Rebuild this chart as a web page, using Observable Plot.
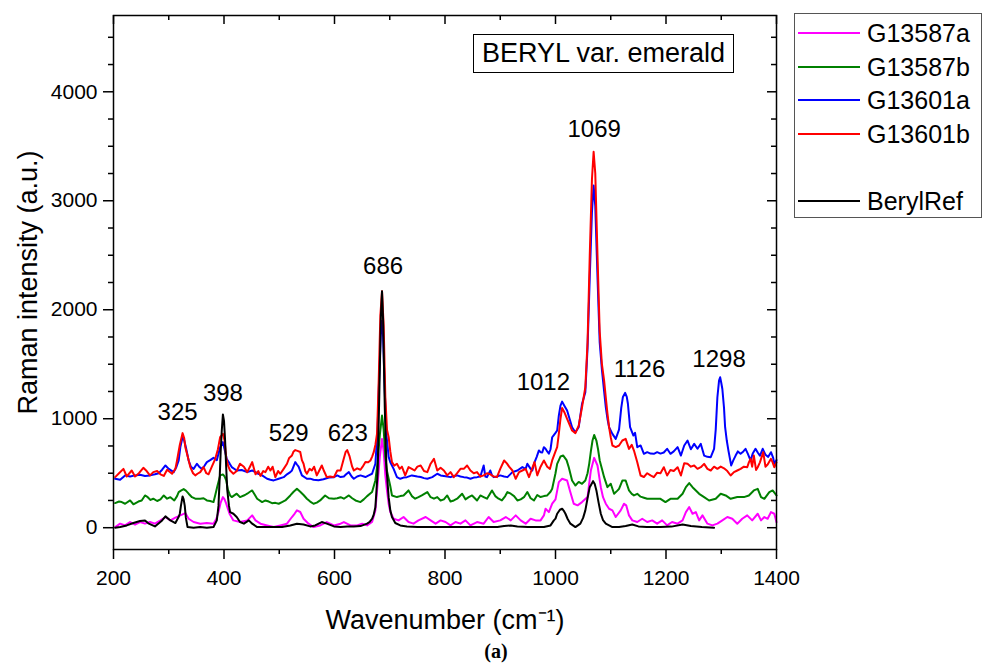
<!DOCTYPE html>
<html>
<head>
<meta charset="utf-8">
<script src="https://cdn.jsdelivr.net/npm/d3@7"></script>
<script src="https://cdn.jsdelivr.net/npm/@observablehq/plot@0.6"></script>
<style>
  body { margin: 0; background: #fff; }
  #wrap { position: relative; width: 989px; height: 666px; font-family: "Liberation Sans", Arial, sans-serif; color: #000; }
  #chart { position: absolute; left: 0; top: 0; }
  .sample-box { position: absolute; left: 473px; top: 34px; width: 261px; height: 39px; box-sizing: border-box;
    border: 1.5px solid #000; font-size: 27px; line-height: 36px; text-align: center; white-space: nowrap; background: #fff; }
  .legend { position: absolute; left: 794px; top: 13px; width: 188px; height: 205px; box-sizing: border-box; border: 1px solid #555; }
  .legend .row { position: absolute; left: 0; height: 0; }
  .legend .swatch { position: absolute; left: 3px; width: 62px; top: -1px; height: 2px; }
  .legend .name { position: absolute; left: 72px; top: -15px; font-size: 25px; line-height: 30px; white-space: nowrap; }
  .panel { position: absolute; top: 641px; left: 496px; transform: translateX(-50%);
    font-family: "Liberation Serif", "Times New Roman", serif; font-weight: bold; font-size: 20px; line-height: 20px; }
</style>
</head>
<body>
<div id="wrap">
  <div id="chart"></div>
  <div class="sample-box">BERYL var. emerald</div>
  <div class="legend" id="legend"></div>
  <div class="panel">(a)</div>
</div>
<script>
// Raman spectra of emerald samples and the beryl reference: [wavenumber cm⁻¹, intensity a.u.]
const G13587a = [[203,6],[212,37],[221,21],[230,52],[239,28],[248,52],[257,37],[266,52],[275,37],[285,67],[294,98],[303,67],[312,92],[321,113],[330,134],[336,82],[345,52],[357,37],[369,43],[381,37],[386,80],[390,144],[394,230],[398,281],[401,260],[404,220],[410,128],[417,67],[429,52],[442,67],[451,113],[457,67],[466,37],[478,21],[490,6],[502,21],[514,37],[523,98],[528,130],[532,159],[538,144],[544,82],[553,37],[562,6],[574,21],[586,52],[599,21],[611,37],[617,52],[629,21],[641,21],[650,37],[659,21],[668,52],[674,159],[678,400],[682,650],[686,815],[689,700],[692,480],[695,342],[698,220],[701,144],[707,82],[716,67],[725,98],[734,52],[743,37],[752,67],[765,98],[774,67],[783,37],[792,67],[801,52],[810,21],[819,52],[828,37],[837,67],[846,21],[858,52],[870,37],[879,98],[888,52],[900,67],[910,98],[919,67],[928,113],[937,67],[946,37],[955,82],[964,67],[973,67],[979,113],[982,174],[988,143],[994,220],[1000,260],[1006,418],[1012,449],[1021,433],[1026,342],[1033,220],[1040,205],[1048,235],[1058,281],[1064,525],[1070,641],[1076,571],[1082,372],[1086,280],[1091,220],[1097,174],[1103,159],[1109,98],[1118,159],[1124,220],[1128,205],[1133,113],[1139,67],[1148,52],[1157,82],[1166,52],[1175,67],[1184,37],[1193,67],[1202,21],[1211,52],[1221,37],[1230,67],[1236,143],[1242,189],[1248,128],[1254,143],[1260,67],[1266,113],[1275,37],[1284,21],[1293,37],[1302,67],[1311,98],[1320,82],[1329,37],[1338,82],[1347,113],[1356,67],[1366,128],[1372,67],[1378,98],[1384,82],[1390,143],[1396,128],[1400,50]];

const G13587b = [[203,226],[210,240],[215,235],[221,220],[230,250],[236,215],[245,240],[251,250],[257,296],[262,280],[267,255],[272,266],[279,245],[285,260],[291,296],[297,266],[303,280],[310,250],[315,290],[318,327],[322,340],[327,354],[331,340],[336,312],[342,280],[348,266],[357,266],[363,270],[369,250],[375,245],[381,235],[384,296],[388,380],[393,480],[398,489],[401,470],[404,434],[407,350],[411,296],[414,281],[423,312],[429,281],[438,300],[442,312],[447,330],[451,342],[456,300],[460,266],[469,235],[475,250],[481,240],[487,225],[493,228],[499,220],[505,235],[511,250],[520,296],[526,330],[532,357],[538,330],[544,300],[550,266],[556,240],[562,220],[568,230],[574,250],[583,296],[590,270],[599,266],[605,270],[611,280],[617,266],[626,296],[632,270],[638,250],[647,235],[653,260],[659,290],[668,327],[674,434],[678,600],[682,850],[686,1029],[689,900],[692,650],[695,520],[698,450],[701,380],[704,296],[713,281],[719,290],[725,296],[734,342],[740,290],[746,266],[752,280],[758,296],[768,327],[774,280],[780,266],[786,281],[792,250],[798,260],[804,296],[810,240],[816,250],[822,266],[831,312],[837,260],[843,280],[849,296],[858,250],[864,296],[870,281],[876,266],[885,342],[891,290],[897,266],[903,250],[909,290],[913,327],[919,312],[925,290],[931,250],[937,260],[943,280],[949,327],[955,270],[961,250],[967,300],[973,281],[979,290],[985,296],[991,330],[994,357],[1000,500],[1003,586],[1009,653],[1014,662],[1020,620],[1024,555],[1030,433],[1036,387],[1042,420],[1048,403],[1054,433],[1058,500],[1061,586],[1064,700],[1067,800],[1070,851],[1074,800],[1077,720],[1080,617],[1084,540],[1088,464],[1094,372],[1100,403],[1106,311],[1112,340],[1115,357],[1121,433],[1127,433],[1133,342],[1138,310],[1142,296],[1148,311],[1154,285],[1160,275],[1166,265],[1178,265],[1190,265],[1199,235],[1208,265],[1221,265],[1230,311],[1236,372],[1242,409],[1248,372],[1254,342],[1260,311],[1269,281],[1278,250],[1290,265],[1299,311],[1308,296],[1317,265],[1329,281],[1341,281],[1350,296],[1359,342],[1366,357],[1372,281],[1378,265],[1387,327],[1393,342],[1400,296]];

const G13601a = [[203,449],[212,440],[221,480],[230,470],[239,480],[248,485],[257,475],[266,480],[275,490],[282,500],[288,532],[294,571],[300,540],[309,510],[314,560],[318,617],[321,740],[325,831],[328,800],[331,739],[336,617],[340,560],[345,540],[351,587],[355,560],[360,540],[365,570],[369,602],[375,620],[381,641],[387,620],[393,739],[398,785],[402,700],[405,630],[410,590],[414,556],[423,525],[432,530],[442,510],[451,525],[460,500],[469,480],[478,449],[484,440],[490,434],[499,449],[508,464],[514,490],[520,510],[523,525],[529,602],[532,580],[535,560],[541,480],[550,449],[556,450],[562,440],[571,435],[580,445],[590,460],[599,464],[605,480],[611,465],[617,470],[621,490],[626,510],[631,470],[635,449],[641,470],[647,480],[656,465],[662,480],[668,495],[674,587],[678,900],[681,1400],[684,1800],[686,1900],[688,1750],[691,1250],[694,850],[698,650],[701,600],[707,540],[713,464],[719,449],[725,460],[731,464],[740,480],[750,470],[756,465],[762,455],[768,449],[777,464],[786,495],[792,480],[798,475],[804,470],[810,464],[816,475],[822,480],[828,470],[834,464],[840,460],[846,449],[852,460],[858,464],[864,470],[870,571],[873,470],[876,464],[882,525],[885,480],[888,464],[894,470],[900,480],[907,470],[913,464],[922,510],[931,525],[940,556],[946,540],[949,587],[955,540],[958,525],[962,600],[966,650],[970,709],[973,693],[976,690],[979,739],[982,724],[985,700],[988,680],[991,720],[994,830],[997,850],[1000,870],[1003,892],[1006,1029],[1009,1120],[1012,1157],[1016,1120],[1021,1075],[1026,990],[1030,922],[1036,876],[1042,922],[1048,1136],[1054,1243],[1058,1650],[1062,2300],[1066,2900],[1069,3140],[1072,2950],[1076,2300],[1080,1700],[1084,1450],[1088,1250],[1091,1106],[1094,1000],[1097,922],[1103,861],[1109,815],[1115,900],[1119,1100],[1122,1200],[1126,1237],[1129,1200],[1131,1140],[1133,1030],[1135,922],[1141,846],[1144,870],[1148,739],[1154,755],[1160,678],[1166,693],[1172,680],[1178,678],[1184,693],[1190,680],[1196,690],[1202,724],[1208,678],[1214,700],[1221,739],[1227,662],[1233,754],[1239,800],[1245,720],[1251,769],[1257,724],[1263,769],[1269,662],[1275,650],[1281,647],[1287,724],[1290,900],[1293,1197],[1296,1350],[1298,1380],[1300,1330],[1302,1273],[1305,1100],[1307,922],[1310,800],[1313,708],[1318,571],[1322,620],[1326,662],[1330,700],[1335,678],[1340,700],[1344,724],[1348,680],[1353,617],[1357,680],[1362,724],[1366,690],[1370,660],[1375,724],[1380,670],[1385,650],[1390,693],[1394,640],[1396,586],[1400,620]];

const G13601b = [[203,464],[210,500],[218,540],[224,470],[233,525],[239,470],[246,500],[254,550],[260,520],[266,480],[272,510],[279,520],[285,490],[291,475],[297,532],[306,495],[312,540],[315,617],[320,760],[325,868],[328,820],[330,739],[335,640],[339,556],[344,500],[348,480],[352,495],[357,510],[363,556],[368,500],[372,490],[378,560],[384,630],[389,720],[393,831],[398,862],[401,800],[404,640],[408,560],[411,525],[417,495],[423,520],[429,587],[436,560],[442,510],[447,560],[451,602],[457,490],[462,520],[466,475],[471,520],[475,510],[480,560],[484,525],[488,560],[493,464],[498,520],[502,495],[508,540],[514,587],[518,640],[523,663],[526,700],[529,712],[533,705],[538,695],[541,620],[544,587],[547,520],[550,495],[555,540],[559,525],[563,560],[568,480],[572,520],[577,571],[581,520],[586,464],[592,470],[599,464],[605,525],[611,525],[616,620],[620,693],[623,712],[627,660],[632,560],[635,525],[641,545],[647,532],[651,560],[656,602],[661,600],[665,617],[668,650],[671,693],[674,760],[677,862],[680,1350],[683,1950],[686,2170],[689,1850],[692,1200],[695,900],[698,831],[701,700],[704,602],[708,570],[713,587],[718,540],[722,560],[728,480],[734,556],[740,540],[745,525],[750,560],[756,571],[762,520],[768,510],[774,587],[780,632],[786,525],[792,550],[798,525],[804,480],[810,510],[816,464],[822,500],[828,540],[834,540],[840,571],[846,525],[852,500],[858,510],[864,470],[870,480],[876,500],[882,490],[888,470],[894,464],[900,540],[907,617],[912,590],[916,560],[922,525],[928,449],[934,510],[940,525],[946,540],[952,464],[956,520],[962,602],[967,480],[973,560],[979,617],[985,560],[990,540],[994,617],[1000,700],[1003,739],[1006,861],[1009,998],[1012,1099],[1016,1060],[1021,998],[1026,940],[1030,892],[1036,868],[1042,937],[1048,1105],[1054,1289],[1058,1700],[1062,2500],[1066,3200],[1069,3450],[1072,3250],[1076,2500],[1080,1800],[1084,1500],[1088,1350],[1091,1197],[1094,1050],[1097,922],[1100,830],[1103,754],[1109,740],[1115,754],[1121,800],[1127,815],[1133,723],[1138,760],[1142,708],[1148,601],[1154,479],[1160,465],[1166,500],[1172,480],[1178,464],[1184,505],[1190,500],[1196,555],[1202,479],[1208,530],[1214,520],[1221,555],[1227,479],[1233,592],[1239,586],[1245,560],[1251,571],[1257,540],[1263,555],[1269,586],[1275,540],[1281,525],[1287,560],[1293,540],[1299,561],[1305,545],[1311,520],[1317,479],[1323,510],[1329,525],[1335,540],[1341,560],[1347,555],[1350,600],[1353,632],[1356,560],[1359,662],[1363,530],[1366,555],[1370,600],[1376,693],[1380,560],[1384,580],[1390,632],[1393,600],[1396,555],[1400,600]];

const BerylRef = [[203,0],[212,6],[224,21],[236,43],[248,61],[257,67],[263,40],[275,12],[288,67],[294,104],[303,67],[312,43],[318,100],[320,128],[322,200],[325,287],[327,260],[329,200],[331,90],[334,6],[345,0],[357,6],[369,0],[381,6],[387,67],[390,200],[392,434],[394,700],[396,892],[398,1039],[400,980],[402,800],[404,550],[406,342],[409,200],[411,144],[417,128],[423,98],[429,52],[436,37],[445,67],[451,37],[460,6],[475,6],[490,6],[505,6],[520,21],[532,37],[544,30],[556,12],[565,21],[577,52],[586,37],[599,12],[611,6],[623,12],[635,12],[647,15],[659,37],[664,55],[668,82],[671,120],[674,189],[678,500],[681,1200],[684,1950],[686,2170],[688,1900],[691,1100],[694,550],[698,280],[701,160],[704,98],[710,43],[719,21],[731,12],[750,6],[780,6],[810,6],[840,6],[870,6],[895,6],[907,15],[919,21],[931,12],[950,6],[979,6],[991,21],[997,67],[1000,83],[1003,128],[1008,165],[1012,174],[1015,155],[1018,128],[1022,80],[1027,37],[1036,6],[1045,37],[1050,90],[1054,159],[1058,270],[1062,372],[1068,427],[1071,400],[1074,342],[1078,230],[1082,128],[1086,70],[1091,37],[1103,6],[1115,6],[1127,15],[1139,30],[1150,12],[1165,6],[1190,6],[1210,10],[1230,30],[1245,15],[1265,6],[1287,0]];

const seriesNames = ["G13587a", "G13587b", "G13601a", "G13601b", "BerylRef"];
const seriesColors = ["#ff00ff", "#008000", "#0000ff", "#ff0000", "#000000"];
const seriesData = [G13587a, G13587b, G13601a, G13601b, BerylRef];

// Band assignments written above the peaks
const peakText = ["325", "398", "529", "623", "686", "1012", "1069", "1126", "1298"];
const peakLabelX = [316, 398, 517, 624, 688, 978, 1070, 1152, 1296];
const peakLabelY = [990, 1167, 794, 800, 2328, 1265, 3587, 1380, 1472];

// Axis ticks
const xMajor = [200, 400, 600, 800, 1000, 1200, 1400];
const xMinor = [300, 500, 700, 900, 1100, 1300];
const yMajor = [0, 1000, 2000, 3000, 4000];
const yMinor = [250, 500, 750, 1250, 1500, 1750, 2250, 2500, 2750, 3250, 3500, 3750, 4250, 4500];

const W = 989, H = 666;
const mL = 113, mR = 213, mT = 15, mB = 117;
const frameW = W - mL - mR, frameH = H - mT - mB;

const peaks = peakText.map((t, i) => ({text: t, x: peakLabelX[i], y: peakLabelY[i]}));

const lineMarks = seriesData.map((data, i) =>
  Plot.line(data, {x: d => d[0], y: d => d[1], stroke: seriesColors[i], strokeWidth: 2})
);

const chart = Plot.plot({
  width: W,
  height: H,
  marginLeft: mL,
  marginRight: mR,
  marginTop: mT,
  marginBottom: mB,
  x: {domain: [200, 1400]},
  y: {domain: [-200, 4700]},
  style: {fontFamily: '"Liberation Sans", Arial, sans-serif', fontSize: "21px", color: "#000", background: "#fff"},
  marks: [
    // bottom and left axes: outward ticks
    Plot.axisX({ticks: xMajor, tickSize: 10, tickPadding: 11, tickFormat: "d", fontSize: 21, label: null, strokeWidth: 1.5}),
    Plot.axisX({ticks: xMinor, tickSize: 5, fill: "none", label: null, strokeWidth: 1.5}),
    Plot.axisY({ticks: yMajor, tickSize: 10, tickPadding: 6, tickFormat: "d", fontSize: 21, label: null, strokeWidth: 1.5}),
    Plot.axisY({ticks: yMinor, tickSize: 5, fill: "none", label: null, strokeWidth: 1.5}),
    // top and right axes: inward ticks
    Plot.tickX(xMajor, {x: d => d, insetBottom: frameH - 9, strokeWidth: 1.5}),
    Plot.tickX(xMinor, {x: d => d, insetBottom: frameH - 5, strokeWidth: 1.5}),
    Plot.tickY(yMajor, {y: d => d, insetLeft: frameW - 9, strokeWidth: 1.5}),
    Plot.tickY(yMinor, {y: d => d, insetLeft: frameW - 5, strokeWidth: 1.5}),
    ...lineMarks,
    Plot.frame({stroke: "#000", strokeWidth: 1.5}),
    Plot.text(peaks, {x: "x", y: "y", text: "text", fontSize: 24, textAnchor: "middle", lineAnchor: "bottom", fill: "#000"}),
    Plot.text(["Wavenumber (cm⁻¹)"], {frameAnchor: "bottom", dy: 79, fontSize: 27, textAnchor: "middle", lineAnchor: "bottom", fill: "#000"}),
    Plot.text(["Raman intensity (a.u.)"], {frameAnchor: "left", dx: -77, rotate: -90, fontSize: 27, textAnchor: "middle", lineAnchor: "bottom", fill: "#000"})
  ]
});
document.getElementById("chart").appendChild(chart);

// legend: one empty row separates the samples from the reference
const legend = document.getElementById("legend");
const rowSlot = [0, 1, 2, 3, 5];
seriesNames.forEach((name, i) => {
  const row = document.createElement("div");
  row.className = "row";
  row.style.top = (19 + rowSlot[i] * 33.6) + "px";
  const sw = document.createElement("div");
  sw.className = "swatch";
  sw.style.background = seriesColors[i];
  const label = document.createElement("div");
  label.className = "name";
  label.textContent = name;
  row.appendChild(sw);
  row.appendChild(label);
  legend.appendChild(row);
});
</script>
</body>
</html>
